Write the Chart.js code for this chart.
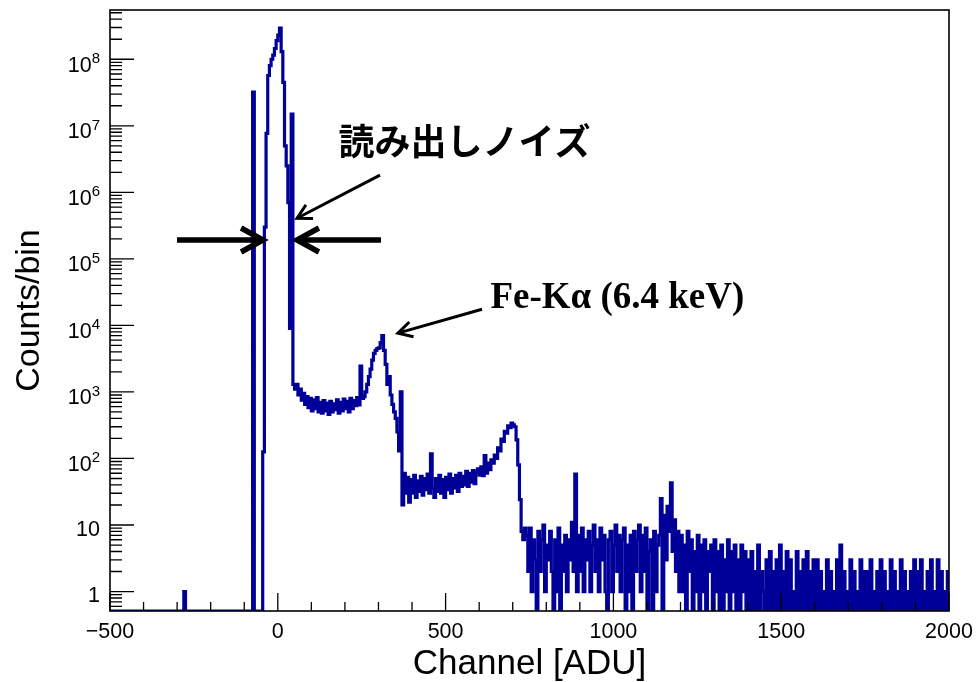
<!DOCTYPE html>
<html lang="ja">
<head>
<meta charset="UTF-8">
<title>Counts/bin vs Channel [ADU]</title>
<script src="https://cdn.jsdelivr.net/npm/chart.js@4.4.0/dist/chart.umd.min.js"></script>
<style>
  html, body { margin: 0; padding: 0; background: #fff; }
  #wrap { width: 978px; height: 682px; }
</style>
</head>
<body>
<div id="wrap"><canvas id="spectrum" width="978" height="682"></canvas></div>
<script>
// histogram, 5 ADU wide bins starting at -500
const binStart = -500;
const binWidth = 5;

// -500 .. -80
const countsLeft = [
  0, 0, 0, 0, 0, 0, 0, 0, 0, 0,
  0, 0, 0, 0, 0, 0, 0, 0, 0, 0,
  0, 0, 0, 0, 0, 0, 0, 0, 0, 0,
  0, 0, 0, 0, 0, 0, 0, 0, 0, 0,
  0, 0, 0, 0, 1, 0, 0, 0, 0, 0,
  0, 0, 0, 0, 0, 0, 0, 0, 0, 0,
  0, 0, 0, 0, 0, 0, 0, 0, 0, 0,
  0, 0, 0, 0, 0, 0, 0, 0, 0, 0,
  0, 0, 0, 0, 0
];
// -75 .. 50 (pedestal / readout noise)
const countsCore = [
  3.2e7, 0, 0, 0, 0, 0, 126, 3e5, 7.7e6, 5.7e7,
  8e7, 1e8, 1.15e8, 1.45e8, 1.9e8, 2.3e8, 2.95e8, 1.3e8, 4.5e7, 5e6,
  2.5e6, 7e5, 9e3, 1.5e7, 1300, 1100
];
// 55 .. 245
const countsFlat = [
  1300, 900, 1100, 750, 950, 650, 850, 580, 800, 520,
  760, 560, 820, 500, 700, 480, 740, 520, 680, 460,
  720, 500, 660, 540, 760, 480, 700, 520, 780, 560,
  720, 500, 800, 560, 740, 620, 820, 640, 2450
];
// 250 .. 370 (Fe-K alpha)
const countsFe = [
  800, 850, 1000, 1300, 1700, 2200, 3000, 3800, 4200, 4500,
  4600, 5500, 7000, 4200, 2600, 1300, 1700, 900, 650, 500,
  400, 250, 130, 1000, 20
];
// 375 .. 600
const countsValley = [
  60, 30, 52, 22, 48, 30, 56, 26, 46, 32,
  54, 28, 50, 34, 58, 30, 117, 36, 26, 50,
  32, 56, 30, 48, 26, 52, 34, 58, 30, 50,
  36, 56, 32, 60, 38, 54, 40, 64, 38, 60,
  44, 66, 42, 62, 70, 56
];
// 605 .. 735
const countsPeak2 = [
  75, 55, 110, 60, 85, 68, 95, 85, 112, 100,
  145, 130, 195, 180, 255, 240, 310, 290, 340, 320,
  300, 190, 80, 24, 8, 6, 9
];
// 740 .. 1135
const countsTail1 = [
  7, 2, 9, 1, 6, 3, 0, 8, 2, 6,
  10, 1, 5, 3, 8, 2, 0, 6, 1, 9,
  0, 5, 2, 7, 1, 6, 3, 11, 2, 58,
  1, 7, 2, 9, 1, 6, 3, 8, 1, 5,
  10, 2, 6, 1, 9, 3, 7, 1, 0, 6,
  8, 1, 5, 10, 2, 7, 1, 6, 9, 0,
  5, 1, 7, 0, 8, 2, 6, 10, 1, 7,
  2, 9, 0, 4, 6, 0, 8, 1, 5, 7
];
// 1140 .. 1195
const countsPeak3 = [25, 0, 14, 3, 19, 8, 43, 4, 12, 2, 8, 1];
// 1200 .. 1995
const countsTail2 = [
  7, 1, 5, 0, 8, 2, 6, 0, 4, 1,
  7, 0, 5, 1, 6, 0, 4, 2, 5, 0,
  6, 1, 4, 0, 5, 0, 3, 1, 6, 0,
  4, 1, 5, 0, 3, 0, 5, 1, 4, 0,
  3, 0, 4, 0, 2, 0, 5, 0, 2, 1,
  0, 3, 0, 4, 0, 2, 0, 3, 0, 5,
  0, 2, 0, 4, 0, 3, 0, 1, 0, 4,
  0, 2, 0, 3, 0, 4, 0, 2, 0, 3,
  0, 3, 0, 2, 0, 1, 0, 3, 0, 2,
  0, 1, 0, 3, 0, 5, 0, 2, 0, 1,
  0, 3, 0, 2, 0, 1, 0, 3, 0, 2,
  0, 2, 0, 3, 0, 1, 0, 2, 0, 3,
  0, 2, 0, 1, 0, 3, 0, 2, 0, 1,
  0, 3, 0, 2, 0, 1, 0, 2, 0, 3,
  0, 2, 0, 3, 0, 1, 0, 2, 0, 3,
  0, 1, 0, 3, 0, 2, 0, 1, 0, 2
];

const xMajorTicks = [-500, 0, 500, 1000, 1500, 2000];
const xTickLabels = ['\u2212500', '0', '500', '1000', '1500', '2000'];
const yDecades = [1, 1e1, 1e2, 1e3, 1e4, 1e5, 1e6, 1e7, 1e8];
const yTickLabels = ['1', '10', '10^2', '10^3', '10^4', '10^5', '10^6', '10^7', '10^8'];

const yMin = 0.51;
const yMax = 5.5e8;

const counts = [].concat(countsLeft, countsCore, countsFlat, countsFe, countsValley,
  countsPeak2, countsTail1, countsPeak3, countsTail2);

// empty bins sit on the bottom of the frame, like ROOT does
const points = counts.map((c, i) => ({ x: binStart + i * binWidth, y: c > 0 ? c : yMin }));
points.push({ x: binStart + counts.length * binWidth, y: points[points.length - 1].y });

const sans = '"Liberation Sans", Arial, Helvetica, sans-serif';

function drawArrow(ctx, x0, y0, x1, y1, width, head, spread) {
  ctx.lineWidth = width;
  ctx.lineJoin = 'miter';
  ctx.beginPath();
  ctx.moveTo(x0, y0);
  ctx.lineTo(x1, y1);
  ctx.stroke();
  const ang = Math.atan2(y1 - y0, x1 - x0);
  ctx.beginPath();
  ctx.moveTo(x1 - head * Math.cos(ang - spread), y1 - head * Math.sin(ang - spread));
  ctx.lineTo(x1, y1);
  ctx.lineTo(x1 - head * Math.cos(ang + spread), y1 - head * Math.sin(ang + spread));
  ctx.stroke();
}

// ROOT style frame: ticks inside, labels and titles outside
const rootAxes = {
  id: 'rootAxes',
  afterDatasetsDraw(chart) {
    const { ctx, chartArea: a } = chart;
    const x = chart.scales.x;
    const y = chart.scales.y;
    ctx.save();
    ctx.strokeStyle = '#000';
    ctx.fillStyle = '#000';

    ctx.lineWidth = 1.6;
    ctx.strokeRect(a.left, a.top, a.right - a.left, a.bottom - a.top);

    ctx.lineWidth = 1.3;
    ctx.beginPath();
    for (let v = -500; v <= 2000; v += 100) {
      const px = x.getPixelForValue(v);
      const len = xMajorTicks.includes(v) ? 18 : 9;
      ctx.moveTo(px, a.bottom);
      ctx.lineTo(px, a.bottom - len);
    }
    for (let d = -1; d <= 8; d++) {
      for (let m = 1; m <= 9; m++) {
        const v = m * Math.pow(10, d);
        if (v < yMin || v > yMax) continue;
        const py = y.getPixelForValue(v);
        ctx.moveTo(a.left, py);
        ctx.lineTo(a.left + (m === 1 ? 24 : 12), py);
      }
    }
    ctx.stroke();

    // x tick labels
    ctx.font = '21.5px ' + sans;
    ctx.textAlign = 'center';
    ctx.textBaseline = 'alphabetic';
    xMajorTicks.forEach((v, i) => {
      ctx.fillText(xTickLabels[i], x.getPixelForValue(v), a.bottom + 26.5);
    });

    // y tick labels, 10^n with raised exponent
    ctx.textAlign = 'right';
    yDecades.forEach((v, i) => {
      const py = y.getPixelForValue(v);
      const [base, exp] = yTickLabels[i].split('^');
      const right = a.left - 10;
      if (exp) {
        ctx.font = '15px ' + sans;
        const w = ctx.measureText(exp).width;
        ctx.fillText(exp, right, py + 4);
        ctx.font = '21.5px ' + sans;
        ctx.fillText(base, right - w, py + 12.4);
      } else {
        ctx.font = '21.5px ' + sans;
        ctx.fillText(base, right, py + 10.5);
      }
    });

    // axis titles
    ctx.font = '35px ' + sans;
    ctx.textAlign = 'center';
    ctx.fillText('Channel [ADU]', (a.left + a.right) / 2, 674);
    ctx.save();
    ctx.translate(39, (a.top + a.bottom) / 2);
    ctx.rotate(-Math.PI / 2);
    ctx.font = '34px ' + sans;
    ctx.fillText('Counts/bin', 0, 0);
    ctx.restore();
    ctx.restore();
  }
};

// labels and arrows placed in data coordinates (ADU, counts)
const notes = {
  id: 'notes',
  afterDatasetsDraw(chart) {
    const { ctx } = chart;
    const x = chart.scales.x;
    const y = chart.scales.y;
    const P = (ax, cy) => [x.getPixelForValue(ax), y.getPixelForValue(cy)];
    ctx.save();
    ctx.fillStyle = '#000';
    ctx.strokeStyle = '#000';
    ctx.textAlign = 'left';
    ctx.textBaseline = 'alphabetic';

    ctx.font = 'bold 36px "Noto Sans CJK JP", "Noto Sans CJK SC", sans-serif';
    let [tx, ty] = P(181, 3.67e6);
    ctx.fillText('読み出しノイズ', tx, ty);

    ctx.font = 'bold 37px "Liberation Serif", "Times New Roman", serif';
    [tx, ty] = P(633.5, 1.81e4);
    ctx.fillText('Fe-K\u03b1 (6.4 keV)', tx, ty);

    let [x0, y0] = P(304.5, 1.81e6);
    let [x1, y1] = P(57.2, 4.08e5);
    drawArrow(ctx, x0, y0, x1, y1, 3, 16, 0.5);

    [x0, y0] = P(-300.4, 1.92e5);
    [x1, y1] = P(-44.1, 1.92e5);
    drawArrow(ctx, x0, y0, x1, y1, 5.5, 25, 0.5);

    [x0, y0] = P(307.5, 1.92e5);
    [x1, y1] = P(57.2, 1.92e5);
    drawArrow(ctx, x0, y0, x1, y1, 5.5, 25, 0.5);

    [x0, y0] = P(608.5, 1.75e4);
    [x1, y1] = P(357.9, 7.64e3);
    drawArrow(ctx, x0, y0, x1, y1, 3, 16, 0.5);
    ctx.restore();
  }
};

const chart = new Chart(document.getElementById('spectrum'), {
  type: 'line',
  data: {
    datasets: [{
      label: 'Counts/bin',
      data: points,
      stepped: 'before',
      borderColor: '#000099',
      borderWidth: 3.2,
      pointRadius: 0,
      fill: false,
      tension: 0
    }]
  },
  options: {
    responsive: false,
    animation: false,
    devicePixelRatio: 1,
    layout: { padding: { left: 110, top: 10, right: 29, bottom: 71 } },
    plugins: {
      legend: { display: false },
      tooltip: { enabled: false },
      title: { display: false }
    },
    scales: {
      x: { type: 'linear', min: -500, max: 2000, display: false },
      y: { type: 'logarithmic', min: yMin, max: yMax, display: false }
    }
  },
  plugins: [rootAxes, notes]
});
</script>
</body>
</html>
